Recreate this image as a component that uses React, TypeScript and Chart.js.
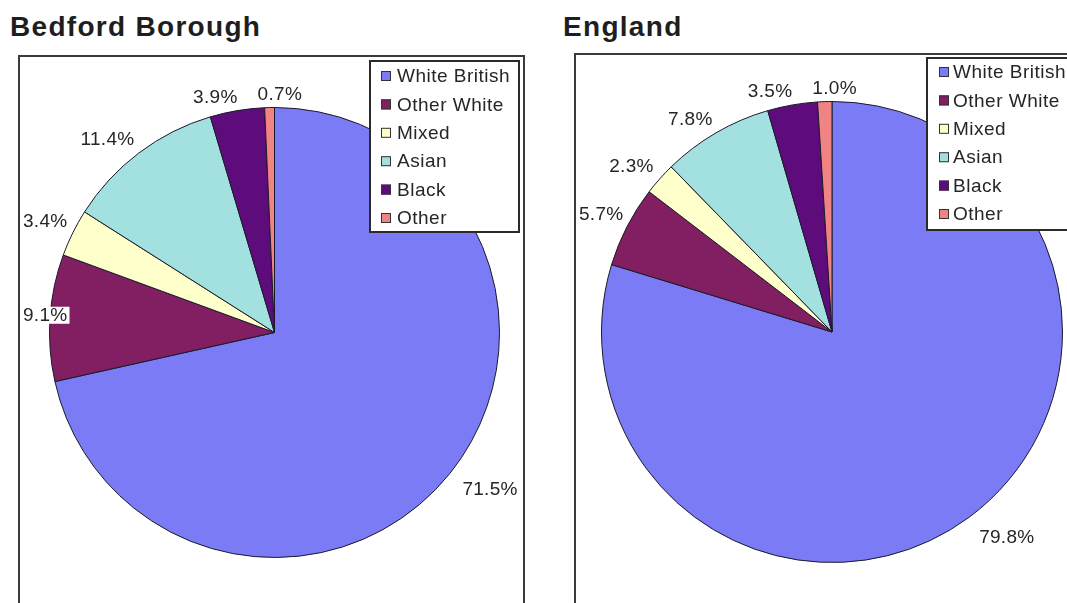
import React, { useEffect, useRef } from "react";
import { Chart, registerables } from "chart.js";

Chart.register(...registerables);

// ---- data ----
const categories = ["White British", "Other White", "Mixed", "Asian", "Black", "Other"];
const bedfordValues = [71.5, 9.1, 3.4, 11.4, 3.9, 0.7];
const englandValues = [79.8, 5.7, 2.3, 7.8, 3.5, 1.0];
const chartTitles = ["Bedford Borough", "England"];
const sliceColors = ["#7b7bf6", "#821e62", "#ffffcc", "#a3e0e0", "#5e0c7c", "#f08484"];

const FONT = "'Liberation Sans', Arial, sans-serif";

type LegendBox = { x: number; y: number; w: number; h: number; first: number; step: number; marker: number; text: number };

const clamp1 = (v: number) => Math.max(-1, Math.min(1, v));

const labelPlugin = {
  id: "outerLabels",
  afterDatasetsDraw(chart: any) {
    const ctx = chart.ctx as CanvasRenderingContext2D;
    const meta = chart.getDatasetMeta(0);
    const data = chart.data.datasets[0].data as number[];
    const W = chart.width;
    const H = chart.height;
    ctx.save();
    ctx.font = `19px ${FONT}`;
    try { (ctx as any).letterSpacing = "0.3px"; } catch (e) {}
    ctx.textAlign = "center";
    ctx.textBaseline = "middle";
    const boxes: { cx: number; cy: number; w: number; h: number; txt: string }[] = [];
    meta.data.forEach((arc: any, i: number) => {
      const p = arc.getProps(["x", "y", "startAngle", "endAngle", "outerRadius"], true);
      const mid = (p.startAngle + p.endAngle) / 2;
      const dx = Math.cos(mid);
      const dy = Math.sin(mid);
      const txt = data[i].toFixed(1) + "%";
      const w = ctx.measureText(txt).width;
      const h = 14;
      const g = 12 + 6 * dy;
      const ex = p.x + p.outerRadius * dx;
      const ey = p.y + p.outerRadius * dy;
      const cx = ex + g * dx + clamp1(dx * 2.5) * (w / 2);
      const cy = ey + g * dy + clamp1(dy * 2.5) * (h / 2);
      boxes.push({ cx, cy, w, h, txt });
    });
    // resolve overlaps between labels (spread horizontally)
    const minGap = 20;
    for (let pass = 0; pass < 3; pass++) {
      for (let i = 0; i < boxes.length; i++) {
        for (let j = i + 1; j < boxes.length; j++) {
          const a = boxes[i];
          const b = boxes[j];
          if (Math.abs(a.cy - b.cy) >= (a.h + b.h) / 2 + 4) continue;
          const need = (a.w + b.w) / 2 + minGap;
          const dist = Math.abs(a.cx - b.cx);
          if (dist >= need) continue;
          const push = (need - dist) / 2;
          if (a.cx <= b.cx) { a.cx -= push; b.cx += push; } else { a.cx += push; b.cx -= push; }
        }
      }
    }
    boxes.forEach((bx) => {
      const cx = Math.min(Math.max(bx.cx, 3 + bx.w / 2), W - 3 - bx.w / 2);
      const cy = Math.min(Math.max(bx.cy, 3 + bx.h / 2), H - 3 - bx.h / 2);
      ctx.fillStyle = "#ffffff";
      ctx.fillRect(cx - bx.w / 2 - 2, cy - 9, bx.w + 4, 17);
      ctx.fillStyle = "#262626";
      ctx.fillText(bx.txt, cx, cy);
    });
    ctx.restore();
  },
};

const legendPlugin = {
  id: "boxLegend",
  afterDraw(chart: any) {
    const box: LegendBox = chart.options.plugins.boxLegend;
    if (!box) return;
    const ctx = chart.ctx as CanvasRenderingContext2D;
    const colors = chart.data.datasets[0].backgroundColor as string[];
    const labels = chart.data.labels as string[];
    ctx.save();
    ctx.fillStyle = "#ffffff";
    ctx.fillRect(box.x, box.y, box.w, box.h);
    ctx.lineWidth = 2;
    ctx.strokeStyle = "#2a2a2a";
    ctx.strokeRect(box.x, box.y, box.w, box.h);
    ctx.font = `19px ${FONT}`;
    try { (ctx as any).letterSpacing = "0.5px"; } catch (e) {}
    ctx.textAlign = "left";
    ctx.textBaseline = "middle";
    labels.forEach((lab, i) => {
      const cy = box.y + box.first + box.step * i;
      ctx.fillStyle = colors[i];
      ctx.fillRect(box.x + box.marker, cy - 5, 10, 10);
      ctx.lineWidth = 1;
      ctx.strokeStyle = "#333333";
      ctx.strokeRect(box.x + box.marker + 0.5, cy - 4.5, 9, 9);
      ctx.fillStyle = "#262626";
      ctx.fillText(lab, box.x + box.text, cy + 1);
    });
    ctx.restore();
  },
};

type BoxProps = {
  title: string;
  values: number[];
  titleLeft: number;
  frame: { left: number; top: number; width: number; height: number };
  padding: { left: number; right: number; top: number; bottom: number };
  legend: LegendBox;
};

function PieBox(props: BoxProps) {
  const ref = useRef<HTMLCanvasElement | null>(null);
  const innerW = props.frame.width - 4;
  const innerH = props.frame.height - 4;
  useEffect(() => {
    if (!ref.current) return;
    const chart = new Chart(ref.current, {
      type: "pie",
      data: {
        labels: categories,
        datasets: [
          {
            data: props.values,
            backgroundColor: sliceColors,
            borderColor: "#1a1a2a",
            borderWidth: 1,
            hoverOffset: 0,
            offset: 0,
          } as any,
        ],
      },
      options: {
        animation: false,
        responsive: false,
        maintainAspectRatio: false,
        events: [],
        layout: { padding: props.padding },
        plugins: {
          legend: { display: false },
          tooltip: { enabled: false },
          title: { display: false },
          boxLegend: props.legend,
        } as any,
      },
      plugins: [labelPlugin, legendPlugin],
    });
    return () => chart.destroy();
  }, []);
  return (
    <>
      <div
        style={{
          position: "absolute",
          left: props.titleLeft,
          top: 13,
          font: `bold 28px ${FONT}`,
          lineHeight: "28px",
          letterSpacing: "1.3px",
          color: "#1e1e1e",
          whiteSpace: "nowrap",
        }}
      >
        {props.title}
      </div>
      <div
        style={{
          position: "absolute",
          left: props.frame.left,
          top: props.frame.top,
          width: props.frame.width,
          height: props.frame.height,
          border: "2px solid #3a3a3a",
          boxSizing: "border-box",
          background: "#ffffff",
        }}
      >
        <canvas
          ref={ref}
          width={innerW}
          height={innerH}
          style={{ position: "absolute", left: 0, top: 0, width: innerW, height: innerH }}
        />
      </div>
    </>
  );
}

export default function App() {
  return (
    <div
      style={{
        position: "absolute",
        left: 0,
        top: 0,
        width: 1067,
        height: 603,
        overflow: "hidden",
        background: "#ffffff",
      }}
    >
      <PieBox
        title={chartTitles[0]}
        values={bedfordValues}
        titleLeft={10}
        frame={{ left: 18, top: 55, width: 507, height: 580 }}
        padding={{ left: 29, right: 23, top: 50, bottom: 75 }}
        legend={{ x: 350, y: 4, w: 149, h: 171, first: 15, step: 28.4, marker: 11, text: 27 }}
      />
      <PieBox
        title={chartTitles[1]}
        values={englandValues}
        titleLeft={563}
        frame={{ left: 574, top: 53, width: 520, height: 580 }}
        padding={{ left: 25, right: 29, top: 46, bottom: 68 }}
        legend={{ x: 351, y: 3, w: 170, h: 172, first: 14, step: 28.4, marker: 12, text: 26 }}
      />
    </div>
  );
}
